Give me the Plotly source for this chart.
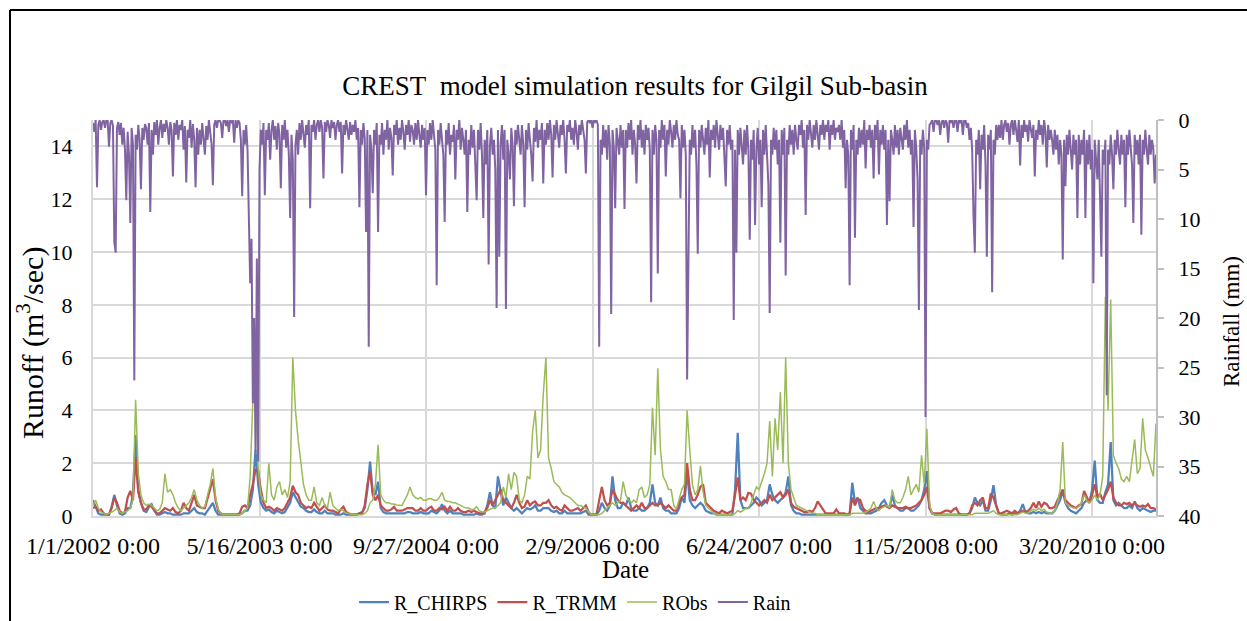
import pandas as pd
import plotly.graph_objects as go

START = "2002-01-01"
END = "2010-09-28"

# Runoff series, one value every 8 days from 1/1/2002 (m3/sec)
r_chirps = [
    0.6,0.35,0.1,0.05,0.05,0.05,0.05,0.35,0.8,0.4,0.1,0.05,0.1,0.3,0.3,0.8,3.07,1.0,0.5,0.2,
    0.15,0.35,0.45,0.2,0.05,0.05,0.1,0.15,0.1,0.1,0.05,0.05,0.05,0.05,0.1,0.1,0.1,0.2,0.3,0.15,
    0.1,0.1,0.05,0.2,0.35,0.5,0.2,0.05,0.05,0.05,0.05,0.05,0.05,0.05,0.05,0.05,0.1,0.2,0.2,0.4,
    1.0,2.5,1.2,0.5,0.3,0.2,0.25,0.15,0.1,0.2,0.15,0.1,0.15,0.3,0.5,0.9,0.7,0.5,0.35,0.3,
    0.2,0.15,0.15,0.25,0.15,0.1,0.1,0.2,0.1,0.1,0.1,0.05,0.05,0.05,0.1,0.05,0.05,0.05,0.05,0.05,
    0.1,0.15,0.3,1.0,2.06,0.9,0.8,1.3,0.3,0.15,0.1,0.1,0.1,0.1,0.1,0.1,0.1,0.1,0.15,0.15,
    0.1,0.1,0.1,0.15,0.1,0.1,0.1,0.2,0.15,0.1,0.2,0.45,0.2,0.1,0.2,0.1,0.1,0.1,0.1,0.05,
    0.05,0.05,0.05,0.05,0.1,0.05,0.05,0.1,0.4,0.9,0.4,0.3,1.5,0.9,0.4,0.7,0.5,0.3,0.2,0.3,
    0.2,0.1,0.2,0.3,0.25,0.3,0.4,0.2,0.2,0.3,0.3,0.3,0.2,0.15,0.2,0.1,0.1,0.2,0.1,0.1,
    0.1,0.1,0.1,0.1,0.15,0.2,0.05,0.05,0.05,0.05,0.2,0.5,0.3,0.2,0.4,1.5,0.6,0.3,0.3,0.5,
    0.4,0.7,0.3,0.2,0.2,0.3,0.2,0.2,0.3,0.5,1.2,0.5,0.4,0.7,0.3,0.2,0.2,0.1,0.1,0.1,
    0.3,0.7,0.5,1.7,0.6,0.4,0.3,0.4,0.5,0.4,0.2,0.15,0.1,0.1,0.05,0.05,0.05,0.05,0.05,0.05,
    0.05,1.0,3.15,0.6,0.3,0.3,0.3,0.4,0.5,0.7,0.6,0.4,0.5,0.6,1.2,0.8,0.6,0.5,0.6,0.7,
    0.9,1.5,0.4,0.2,0.1,0.1,0.05,0.05,0.05,0.05,0.05,0.05,0.05,0.05,0.05,0.05,0.05,0.05,0.05,0.05,
    0.05,0.05,0.05,0.05,0.05,1.26,0.5,0.7,0.3,0.2,0.1,0.1,0.1,0.15,0.2,0.3,0.5,0.6,0.4,0.3,
    0.8,0.4,0.3,0.2,0.2,0.3,0.3,0.2,0.2,0.3,0.4,0.6,1.0,1.7,0.3,0.1,0.05,0.05,0.05,0.05,
    0.05,0.05,0.05,0.05,0.05,0.05,0.05,0.05,0.05,0.1,0.3,0.7,0.5,0.4,0.6,0.2,0.2,0.6,1.17,0.4,
    0.1,0.05,0.05,0.05,0.1,0.05,0.1,0.1,0.2,0.45,0.15,0.1,0.1,0.15,0.1,0.15,0.1,0.15,0.1,0.1,
    0.1,0.2,0.4,0.6,0.95,0.5,0.3,0.2,0.15,0.1,0.2,0.3,0.5,0.6,0.5,1.0,2.1,0.6,0.5,0.5,
    0.9,1.2,2.8,0.6,0.4,0.5,0.4,0.3,0.3,0.4,0.3,0.55,0.3,0.2,0.3,0.25,0.2,0.15,0.2,0.2,
]
r_trmm = [
    0.3,0.35,0.2,0.25,0.1,0.05,0.05,0.3,0.7,0.5,0.2,0.1,0.15,0.7,0.95,0.6,2.2,0.9,0.5,0.25,
    0.25,0.4,0.35,0.2,0.1,0.1,0.2,0.3,0.25,0.2,0.3,0.15,0.1,0.2,0.5,0.3,0.2,0.5,0.8,0.4,
    0.35,0.3,0.3,0.7,1.1,1.4,0.6,0.2,0.1,0.05,0.05,0.05,0.05,0.05,0.05,0.1,0.35,0.4,0.3,0.8,
    1.2,1.75,1.7,1.0,0.5,0.3,0.35,0.3,0.2,0.3,0.25,0.2,0.3,0.5,0.7,1.15,0.9,0.8,0.5,0.4,
    0.3,0.35,0.3,0.5,0.35,0.2,0.3,0.4,0.25,0.2,0.2,0.15,0.1,0.25,0.35,0.15,0.1,0.05,0.05,0.05,
    0.1,0.1,0.4,1.2,1.7,0.8,0.6,0.8,0.4,0.3,0.2,0.2,0.25,0.35,0.2,0.2,0.2,0.25,0.3,0.3,
    0.3,0.2,0.2,0.3,0.2,0.2,0.3,0.35,0.2,0.2,0.3,0.25,0.35,0.2,0.35,0.2,0.2,0.3,0.2,0.15,
    0.15,0.2,0.15,0.2,0.15,0.1,0.1,0.15,0.3,0.6,0.4,0.6,0.8,1.0,0.6,0.5,0.4,0.3,0.5,0.8,
    0.5,0.3,0.35,0.6,0.4,0.5,0.55,0.4,0.4,0.5,0.5,0.6,0.4,0.3,0.35,0.25,0.2,0.4,0.3,0.2,
    0.2,0.25,0.3,0.2,0.3,0.4,0.15,0.05,0.05,0.05,0.6,1.1,0.6,0.4,0.5,1.0,0.8,0.6,0.5,0.5,
    0.4,0.3,0.2,0.3,0.4,0.3,0.5,0.3,0.3,0.4,0.5,0.4,0.4,0.5,0.4,0.3,0.4,0.3,0.2,0.2,
    0.5,0.7,0.8,2.0,1.0,0.6,0.6,0.8,1.1,1.2,0.5,0.4,0.3,0.2,0.15,0.1,0.2,0.15,0.1,0.15,
    0.2,0.8,1.46,0.6,0.7,0.6,0.88,0.85,0.6,0.5,0.4,0.5,0.6,0.5,0.8,0.6,0.7,0.8,0.9,0.7,
    0.8,1.0,0.5,0.35,0.3,0.25,0.2,0.15,0.15,0.2,0.15,0.3,0.55,0.4,0.2,0.1,0.1,0.1,0.1,0.25,
    0.1,0.1,0.1,0.05,0.1,0.7,0.4,0.65,0.6,0.3,0.2,0.15,0.2,0.25,0.3,0.3,0.35,0.4,0.35,0.3,
    0.4,0.35,0.3,0.3,0.3,0.35,0.3,0.3,0.35,0.4,0.5,0.6,0.8,1.1,0.3,0.1,0.1,0.1,0.1,0.15,
    0.2,0.2,0.15,0.25,0.3,0.1,0.05,0.05,0.05,0.1,0.4,0.5,0.4,0.6,0.7,0.3,0.3,0.85,0.7,0.4,
    0.1,0.1,0.15,0.2,0.15,0.1,0.2,0.1,0.15,0.2,0.15,0.2,0.3,0.5,0.3,0.55,0.35,0.5,0.45,0.3,
    0.3,0.35,0.6,0.8,1.0,0.6,0.5,0.4,0.35,0.3,0.4,0.45,0.95,0.7,0.5,0.8,1.2,0.7,0.85,0.6,
    0.8,1.0,1.3,0.7,0.5,0.4,0.4,0.5,0.45,0.5,0.4,0.5,0.4,0.35,0.4,0.35,0.45,0.3,0.3,0.25,
]
r_obs = [
    0.4,0.6,0.3,0.15,0.1,0.05,0.1,0.15,0.2,0.3,0.15,0.1,0.15,0.2,0.3,0.6,4.4,1.6,0.8,0.5,
    0.4,0.45,0.4,0.3,0.2,0.25,0.5,1.6,0.9,1.0,0.8,0.5,0.3,0.2,0.3,0.4,0.5,0.7,1.0,0.6,
    0.4,0.3,0.35,0.8,1.2,1.8,0.7,0.25,0.1,0.05,0.05,0.05,0.05,0.05,0.05,0.05,0.1,0.2,0.3,1.5,
    4.4,4.5,1.8,0.8,0.6,0.5,2.0,0.8,0.6,1.1,1.3,0.8,1.0,0.7,1.3,6.0,4.0,2.9,2.0,1.2,
    0.8,0.6,0.6,1.1,0.5,0.4,0.7,0.4,0.3,0.9,0.4,0.3,0.2,0.25,0.2,0.1,0.1,0.05,0.05,0.05,
    0.05,0.05,0.1,0.2,0.5,0.6,1.2,2.7,0.8,0.6,0.5,0.5,0.45,0.45,0.42,0.4,0.4,0.6,0.8,1.1,
    0.8,0.7,0.65,0.7,0.6,0.6,0.65,0.65,0.6,0.6,0.7,0.9,0.6,0.55,0.55,0.5,0.5,0.45,0.4,0.35,
    0.3,0.3,0.25,0.25,0.35,0.2,0.15,0.15,0.2,0.25,0.3,0.3,0.4,0.5,1.1,0.7,1.6,1.0,1.65,1.5,
    0.6,0.5,0.8,1.5,1.4,3.2,4.0,2.2,2.5,4.6,6.0,2.2,1.8,1.3,1.2,1.1,0.9,0.8,0.75,0.7,
    0.6,0.5,0.4,0.4,0.35,0.3,0.15,0.05,0.05,0.05,0.05,0.1,0.2,0.3,0.4,0.5,0.4,0.5,0.6,1.3,
    0.8,0.6,0.5,0.6,0.5,1.0,1.1,0.7,0.8,1.2,4.1,2.3,5.6,2.5,1.5,1.3,1.0,1.0,0.4,0.25,
    0.6,1.0,1.2,4.0,2.5,1.2,0.8,1.0,1.9,0.9,0.4,0.3,0.2,0.1,0.05,0.05,0.05,0.05,0.05,0.05,
    0.05,0.1,0.2,0.15,0.2,0.3,0.3,0.5,0.8,1.1,1.0,1.3,1.6,2.0,3.6,1.5,3.7,2.5,4.7,2.0,
    6.0,2.0,1.0,0.7,0.4,0.35,0.3,0.25,0.2,0.15,0.1,0.1,0.05,0.05,0.05,0.05,0.05,0.05,0.05,0.05,
    0.05,0.05,0.05,0.05,0.05,0.1,0.1,0.1,0.1,0.1,0.15,0.2,0.3,0.55,0.3,0.2,0.3,0.35,0.4,0.3,
    1.0,0.6,0.5,0.5,0.7,1.0,1.5,0.8,1.0,1.2,0.9,2.3,1.2,3.3,0.4,0.1,0.05,0.05,0.05,0.05,
    0.05,0.05,0.05,0.05,0.05,0.05,0.05,0.05,0.05,0.05,0.05,0.1,0.1,0.1,0.1,0.1,0.1,0.15,0.2,0.1,
    0.05,0.05,0.05,0.05,0.05,0.05,0.05,0.05,0.1,0.15,0.1,0.1,0.2,0.25,0.2,0.3,0.2,0.25,0.15,0.1,
    0.1,0.2,0.5,1.0,2.8,0.5,0.4,0.35,0.3,0.3,0.35,0.5,0.8,0.6,0.5,0.6,0.8,0.6,0.8,1.5,
    8.3,4.0,8.2,2.3,2.0,1.8,1.4,1.3,1.5,1.3,2.0,2.9,1.6,1.8,3.7,2.5,2.2,1.8,1.5,3.5,
]

# Rainfall, one value every 4 days from 1/1/2002 (mm)
rain_mm = [
    0.3,1.2,0,6.8,0.5,0,1,0.2,0,0.8,0,0,2.7,0.3,0,0.6,12.3,13.4,0.8,0.2,1.5,0.3,2.5,0.8,3,8.1,1.2,3.5,10.4,0.8,2.5,26.3,1.5,3,0.5,2,7,0.8,2,0.4,
    0.8,2.5,0.3,9.3,1,3.5,0.2,1.5,0,2.5,0.8,0,1.8,0.4,1.2,0,0.8,2.5,0.2,1,5.7,0.3,1.5,0,2,0.5,1,0,3,0.6,6.3,1,1.8,0,2.8,0.4,2,6.8,0.8,3.5,
    1,2.5,0.3,1.8,3.5,0.6,2,0,1.5,2.5,6.6,0.5,0,0.8,0,0,0.3,1.8,0,0,0.6,0,1.2,0,0.3,0,2.3,0,0.8,0,0.3,2,7.7,1,2.5,0.5,3,8.8,16.5,12,
    28.6,20,33.5,14,34.5,5,1,2.5,0.3,7.6,1,2,0.3,4,1,0,2,0.6,3,0.3,1.5,6.9,0.5,2,0,2.8,1,3.5,9.9,1.5,4,19.9,2.5,1,3.5,0.3,2,0,1.5,2.8,
    0.5,1.5,0,8.9,0.5,1.2,0,2,0.5,0,1.2,0,0.8,5.9,0.2,1.2,0,0.5,1.8,0,0.8,0.2,2,0.5,0,1.2,0.2,5.4,0.5,1.5,0,0.8,2,0.2,1.5,0.5,1.2,0,2,0.8,
    8.8,1,2.5,0.3,1.8,11.3,1,22.9,1.5,3,7.4,1,2.5,0.3,11.3,1.5,2.5,0.3,3.5,1,2,0,3,0.8,1.8,5.6,0.5,1.5,0,2.5,0.8,2,0,1.2,3,0.5,1.5,0,2.2,0.5,
    1,2.5,0.3,2,0,1.5,2.8,0.5,2,0.8,7.6,1,2.5,0.3,2,0,1.5,3,16.7,1,2.5,0.3,2,3.5,10.3,1,2.5,0.3,3.5,1.5,2.2,0.5,6,1,2,0,3,0.8,2,3.5,
    1,9.3,2,3.5,0.5,2.8,1,4.5,8.1,1,3,0.3,3.5,9.9,2,4.5,1,14.6,2.5,0.8,3.5,2,5,19,1,13.8,2.5,0.5,4,1,19.1,2,3.5,6,0.8,2.5,8.7,1,2.5,0.5,
    2,3.5,0.5,2.5,8.8,1,3,0.3,2,3.5,6.2,0.8,2.2,0,2.8,1,2,0.3,6.4,1,2.5,0.3,2,0,1.5,5.8,0.5,2,0,1.2,2.8,0.5,1.5,0,2,5.4,0.5,1.2,0,2,
    0.8,2.5,0,1.2,3,0.5,1.5,0,0.8,2,5.4,0.2,0,0.3,0,0.8,0,0.2,0,0.5,22.9,2,3.5,0.5,2.8,1,4,0.5,2.5,19.6,1,2.8,8.9,0.8,2,3.5,0.5,2.8,1,9,
    1,2.8,0.3,2,0,3.5,1,2.5,6.4,0.5,2,0,2.8,1,3.5,0.5,2,0.8,3,18.4,1,3.5,0.5,2,15.5,1,2.8,0,2,0.5,5.7,1,2.5,0,1.2,2.8,0.5,2,0,1.5,
    2,7.9,0.5,2.8,1,3.5,26.2,10.9,2,3.5,0.5,2.8,1,4.5,13.5,1,2.8,0.5,2,3.5,0.8,2.5,0,5.8,1,2,0.5,2.8,0,1.5,3,0.5,2,0.8,3.5,6.7,1,2.5,0.5,3,
    2,20.2,3,13.4,1,3.5,0.8,3,4.5,1,3.5,0.5,3,12.1,2,4,1,10.6,3,0.8,4.5,2,8.8,1,3.5,0.5,3,6.5,19.5,2,3.5,0.8,3,1,4.5,2,12.4,1,3.5,0.8,
    15.7,2,3.5,0.5,2.5,1,3.5,0.5,2,3,0.5,1.5,0,2.8,1,9.6,0.5,2,0,1.5,2.8,0.5,2,0,1.2,3,0.5,1.5,0,2,0.5,1.2,0,3,0.5,1.5,0,2,0.8,1.2,
    0.5,2,0,2.8,1,6.9,2,3.5,16.7,1,3,0.5,11.9,2,3.5,0.8,2.8,1,2.5,0,4.9,1,2,0.5,2.8,1,5.9,0.5,2,0,5.5,1,2.5,0.5,3,1,10.6,2,8.2,1,
    2,3.5,0.5,2.8,1,3.5,0.8,2,3,0.5,2,0,2.8,1,3.5,2,10.8,1,2.8,6,19.2,2,3.5,1,2.8,30,2,3,0.5,0.3,0,1.2,0,0,0.5,0,1.5,0.2,0,0.8,
    0,0.3,2.3,0,0.2,0,0.8,0,0,1.2,0,0.3,0,1.5,0,0,0.8,0.3,2,0.8,3,9.7,13.4,2,3.5,1,7,1.5,3,0.5,4.5,13.8,1.5,3,1,17.4,2,3.5,0.5,2,
    0.5,1.8,0,2,0.5,0,1.2,0.3,2.5,0.5,0,1.5,0,1,2.2,0,4.6,0.5,1.8,0,1.2,0.5,2.2,0,1,1.8,0.5,5.7,1,2,0,1.5,0.5,2.5,0,1.2,4.8,0.5,2,1,
    2,3.5,1,3,1.5,4.5,2,3.5,14.1,2,6.7,1.5,3.5,1,3,5,1.5,3.5,2,9.9,1.5,4.5,2,3.5,1,9.9,2,4.5,1.5,5,3,16.5,2,4,6,2,7.4,13.8,3,4.5,
    2,27.8,3,4.5,1.5,3.5,7,2,3.5,1,3,4.5,1.5,3.5,2,8.8,1.5,3.5,1,3,4.5,10.4,1.5,3.5,2,4.5,1.5,11.6,2,3.5,1,3,4.5,1.5,3.5,2,3,6.4,3.5,
]

x_tick_dates = ["2002-01-01", "2003-05-16", "2004-09-27", "2006-02-09",
                "2007-06-24", "2008-11-05", "2010-03-20"]
x_tick_text = ["1/1/2002 0:00", "5/16/2003 0:00", "9/27/2004 0:00", "2/9/2006 0:00",
               "6/24/2007 0:00", "11/5/2008 0:00", "3/20/2010 0:00"]
runoff_ticks = [0, 2, 4, 6, 8, 10, 12, 14]
rain_ticks = [0, 5, 10, 15, 20, 25, 30, 35, 40]

runoff_dates = pd.date_range(START, periods=len(r_chirps), freq="8D")
rain_dates = pd.date_range(START, periods=len(rain_mm), freq="4D")

# layout helpers (pixel -> paper), plot area l=93, r=1156, t=120, b=516
L, R, T, B = 93, 1156, 120, 516
def px(x):
    return (x - L) / (R - L)
def py(y):
    return (B - y) / (B - T)

FONT = "Liberation Serif, Times New Roman, serif"

fig = go.Figure()
fig.add_trace(go.Scatter(x=runoff_dates, y=r_chirps, name="R_CHIRPS", mode="lines",
                         line=dict(color="#4F81BD", width=2.25)))
fig.add_trace(go.Scatter(x=runoff_dates, y=r_trmm, name="R_TRMM", mode="lines",
                         line=dict(color="#C0504D", width=2.25)))
fig.add_trace(go.Scatter(x=runoff_dates, y=r_obs, name="RObs", mode="lines",
                         line=dict(color="#9BBB59", width=1.5)))
fig.add_trace(go.Scatter(x=rain_dates, y=rain_mm, name="Rain", mode="lines", yaxis="y2",
                         line=dict(color="#8064A2", width=2)))

fig.update_layout(
    width=1247, height=621,
    margin=dict(l=L, r=1247 - R, t=T, b=621 - B, autoexpand=False),
    paper_bgcolor="white", plot_bgcolor="white",
    font=dict(family=FONT, size=22, color="#000000"),
    title=dict(text="CREST\u00a0 model simulation results for Gilgil Sub-basin",
               x=635 / 1247, xanchor="center", y=1 - 86 / 621, yanchor="middle",
               font=dict(family=FONT, size=27, color="#000000")),
    legend=dict(orientation="h", x=px(575), xanchor="center", y=py(602), yanchor="middle",
                font=dict(family=FONT, size=20, color="#000000"), bgcolor="rgba(0,0,0,0)"),
    xaxis=dict(type="date", range=[START, END], tickmode="array",
               tickvals=x_tick_dates, ticktext=x_tick_text,
               showgrid=True, gridcolor="#D9D9D9", gridwidth=2,
               showline=True, linecolor="#D9D9D9", linewidth=2,
               zeroline=False, ticks="", ticklabelstandoff=7,
               tickfont=dict(family=FONT, size=24, color="#000000")),
    yaxis=dict(range=[0, 15], tickmode="array", tickvals=runoff_ticks,
               showgrid=True, gridcolor="#D9D9D9", gridwidth=2,
               showline=True, linecolor="#D9D9D9", linewidth=2,
               zeroline=False, ticks="", ticklabelstandoff=14,
               tickfont=dict(family=FONT, size=22, color="#000000")),
    yaxis2=dict(range=[40, 0], overlaying="y", side="right", tickmode="array",
                tickvals=rain_ticks, showgrid=False, zeroline=False,
                showline=True, linecolor="#BFBFBF", linewidth=2,
                ticks="outside", ticklen=6, tickwidth=2, tickcolor="#BFBFBF",
                ticklabelstandoff=10,
                tickfont=dict(family=FONT, size=22, color="#000000")),
    annotations=[
        dict(text="Runoff (m<sup>3</sup>/sec)", xref="paper", yref="paper",
             x=px(30), y=py(343), textangle=-90, showarrow=False,
             xanchor="center", yanchor="middle",
             font=dict(family=FONT, size=30, color="#000000")),
        dict(text="Rainfall (mm)", xref="paper", yref="paper",
             x=px(1231), y=py(322), textangle=-90, showarrow=False,
             xanchor="center", yanchor="middle",
             font=dict(family=FONT, size=23, color="#000000")),
        dict(text="Date", xref="paper", yref="paper",
             x=px(625), y=py(569), showarrow=False,
             xanchor="center", yanchor="middle",
             font=dict(family=FONT, size=25, color="#000000")),
    ],
    shapes=[
        dict(type="line", xref="paper", yref="paper", x0=px(10), x1=px(10),
             y0=py(10), y1=py(640), line=dict(color="black", width=2)),
        dict(type="line", xref="paper", yref="paper", x0=px(10), x1=px(1260),
             y0=py(10), y1=py(10), line=dict(color="black", width=2)),
    ],
)

fig.write_html("out.html")
